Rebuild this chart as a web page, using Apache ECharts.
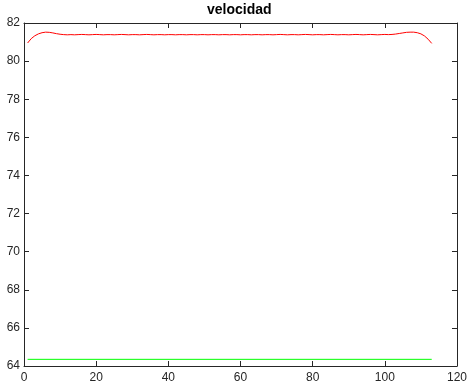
<!DOCTYPE html>
<html><head><meta charset="utf-8">
<script src="https://cdn.jsdelivr.net/npm/echarts@6/dist/echarts.min.js"></script>
<style>html,body{margin:0;padding:0;background:#fff}#c{width:470px;height:389px}</style>
</head><body><div id="c"></div>
<script>
var xTicks = [0, 20, 40, 60, 80, 100, 120];
var yTicks = [64, 66, 68, 70, 72, 74, 76, 78, 80, 82];
var redX = [1,2,3,4,5,6,7,8,9,10,11,12,13,14,15,16,17,18,19,20,21,22,23,24,25,26,27,28,29,30,31,32,33,34,35,36,37,38,39,40,41,42,43,44,45,46,47,48,49,50,51,52,53,54,55,56,57,58,59,60,61,62,63,64,65,66,67,68,69,70,71,72,73,74,75,76,77,78,79,80,81,82,83,84,85,86,87,88,89,90,91,92,93,94,95,96,97,98,99,100,101,102,103,104,105,106,107,108,109,110,111,112,113];
var redY = [80.95,81.18,81.33,81.43,81.49,81.52,81.51,81.48,81.44,81.41,81.39,81.38,81.39,81.38,81.39,81.40,81.39,81.38,81.39,81.40,81.39,81.38,81.39,81.39,81.38,81.39,81.40,81.39,81.38,81.39,81.39,81.38,81.39,81.40,81.39,81.38,81.39,81.39,81.38,81.39,81.39,81.38,81.39,81.39,81.38,81.39,81.39,81.38,81.39,81.39,81.38,81.39,81.39,81.38,81.39,81.39,81.38,81.39,81.39,81.38,81.39,81.39,81.38,81.39,81.39,81.38,81.39,81.39,81.38,81.39,81.40,81.39,81.38,81.39,81.39,81.38,81.39,81.40,81.39,81.38,81.39,81.39,81.38,81.39,81.40,81.39,81.38,81.39,81.39,81.38,81.39,81.40,81.39,81.38,81.39,81.40,81.39,81.38,81.39,81.40,81.39,81.40,81.42,81.45,81.48,81.51,81.52,81.52,81.49,81.43,81.32,81.15,80.93];
var greenX = [1, 113];
var greenY = [64.35, 64.35];

var chart = echarts.init(document.getElementById('c'));
var font = 'Liberation Sans, Arial, Helvetica, sans-serif';
var axisCol = '#262626';
function xa(pos, labels) {
  return {type:'value', position:pos, min:0, max:120, interval:20,
    axisLine:{show:true, onZero:false, lineStyle:{color:axisCol, width:1}},
    axisTick:{show:true, inside:true, length:5, lineStyle:{color:axisCol}},
    axisLabel:{show:labels, color:'#262626', fontSize:12, fontFamily:font, margin:6},
    splitLine:{show:false}};
}
function ya(pos, labels) {
  return {type:'value', position:pos, min:64, max:82, interval:2,
    axisLine:{show:true, onZero:false, lineStyle:{color:axisCol, width:1}},
    axisTick:{show:true, inside:true, length:5, lineStyle:{color:axisCol}},
    axisLabel:{show:labels, color:'#262626', fontSize:12, fontFamily:font, margin:4},
    splitLine:{show:false}};
}
function pairs(xs, ys){ return xs.map(function(x,i){return [x, ys[i]];}); }
chart.setOption({
  animation:false,
  graphic:[{type:'text', left:207, top:3, style:{text:'velocidad', fontSize:14, fontWeight:'bold', fill:'#000', fontFamily:font}}],
  grid:{left:24, right:12, top:23, bottom:23, containLabel:false},
  xAxis:[xa('bottom', true), xa('top', false)],
  yAxis:[ya('left', true), ya('right', false)],
  series:[
    {type:'line', data:pairs(redX, redY), showSymbol:false, lineStyle:{color:'#ff0000', width:1}, itemStyle:{color:'#ff0000'}},
    {type:'line', data:pairs(greenX, greenY), showSymbol:false, lineStyle:{color:'#00ff00', width:1}, itemStyle:{color:'#00ff00'}}
  ]
});
</script></body></html>
